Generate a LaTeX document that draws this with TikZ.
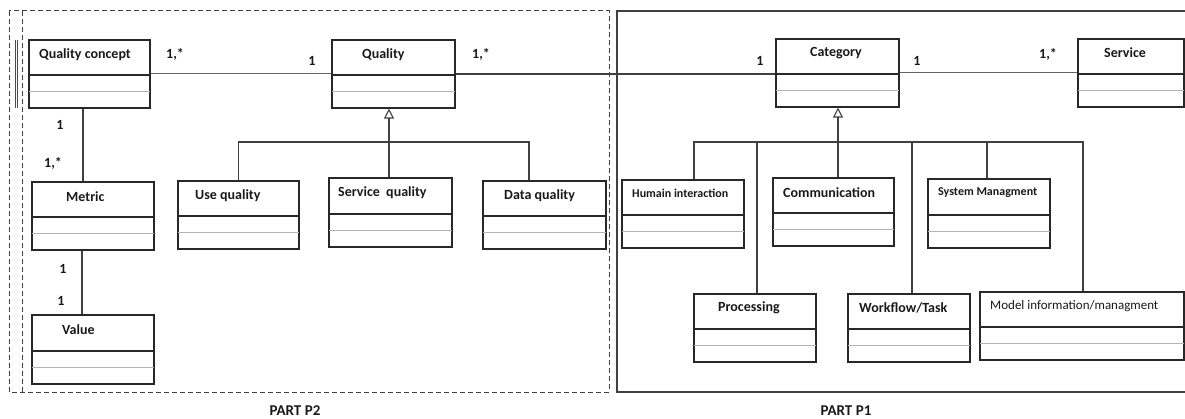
\documentclass[tikz,border=0pt]{standalone}
\usepackage{fontspec}
\setmainfont{Carlito}
\usetikzlibrary{arrows.meta}
\definecolor{boxline}{HTML}{282828}
\definecolor{thinline}{HTML}{B4B4B4}
\definecolor{assocline}{HTML}{666666}
\newcommand{\umlclass}[6]{%
  \node[cls, minimum width={#4-#2}, minimum height={#5-#3}] (#1) at ({(#2+#4)/2},{(#3+#5)/2}) {};
  \draw[boxline, line width=1.1pt] (#2,#6) -- (#4,#6);
  \draw[thinline, line width=1.1pt] (#2,{(#6+#5)/2}) -- (#4,{(#6+#5)/2});
}
\begin{document}
\begin{tikzpicture}[x=1pt, y=-1pt,
    cls/.style={draw=boxline, line width=1.1pt, rectangle, inner sep=0},
    clsname/.style={anchor=west, inner sep=0, font=\fontsize{14}{16}\selectfont\bfseries, text=black!90},
    smallname/.style={anchor=west, inner sep=0, font=\fontsize{12}{14}\selectfont\bfseries, text=black!90},
    mult/.style={inner sep=0, font=\fontsize{14}{16}\selectfont\bfseries, text=black!90},
    assoc/.style={assocline, line width=1pt},
    genline/.style={black!75, line width=1.1pt},
    genarrow/.style={genline, -{Triangle[open, length=10pt, width=10pt]}},
    part/.style={dash pattern=on 5pt off 3pt, black!75, line width=1pt}]
    \useasboundingbox (0,0) rectangle (1185,419);
    \draw[part] (9,11) rectangle (609,392);
    \draw[part] (22,11) -- (22,392);
    \draw[black!70, line width=0.9pt] (15,40) -- (15,108) (17.5,40) -- (17.5,108);
    \draw[black!75, line width=1.1pt] (1185,11) -- (617,11) -- (617,392) -- (1185,392);
    \umlclass{qc}{29}{40}{150}{108}{75}
    \umlclass{ql}{332}{40}{455}{108}{75}
    \umlclass{cat}{776}{39}{899}{107}{74}
    \umlclass{srv}{1078}{39}{1184}{107}{74}
    \umlclass{met}{32}{182}{154}{250}{217}
    \umlclass{val}{32}{315}{154}{384}{351}
    \umlclass{useq}{178}{181}{299}{249}{216}
    \umlclass{srvq}{329}{178}{452}{247}{214}
    \umlclass{dataq}{483}{181}{606}{249}{216}
    \umlclass{hum}{622}{180}{744}{248}{215}
    \umlclass{comm}{773}{178}{894}{246}{213}
    \umlclass{sys}{928}{179}{1050}{248}{215}
    \umlclass{proc}{694}{294}{816}{362}{329}
    \umlclass{wf}{848}{294}{970}{362}{329}
    \umlclass{model}{980}{292}{1184}{360}{327}
    \node[clsname] (qc-t) at (39,55) {Quality concept};
    \node[clsname] (ql-t) at (362,55) {Quality};
    \node[clsname] (cat-t) at (810,53) {Category};
    \node[clsname] (srv-t) at (1104,53) {Service};
    \node[clsname] (met-t) at (66,197) {Metric};
    \node[clsname] (val-t) at (62,330) {Value};
    \node[clsname] (useq-t) at (195,196) {Use quality};
    \node[clsname] (srvq-t) at (338,193) {Service\ \ quality};
    \node[clsname] (dataq-t) at (504,196) {Data quality};
    \node[smallname] (hum-t) at (632,193) {Humain interaction};
    \node[clsname] (comm-t) at (783,193) {Communication};
    \node[smallname] (sys-t) at (938,193) {System Managment};
    \node[clsname] (proc-t) at (718,308) {Processing};
    \node[clsname] (wf-t) at (859,308) {Workflow/Task};
    \node[smallname, font=\fontsize{13}{15}\selectfont] (model-t) at (990,306) {Model information/managment};
    \draw[assoc] (qc.east) -- (ql.west);
    \draw[genline] (ql.east) -- (ql.east -| cat.west);
    \draw[assoc] (cat.east) -- (srv.west);
    \draw[genline] ([xshift=-6.5pt]qc.south) -- ([xshift=-6.5pt]qc.south |- met.north);
    \draw[genline] ([xshift=-11pt]met.south) -- ([xshift=-11pt]met.south |- val.north);
    \node[mult] (m1) at (175,54) {1,*};
    \node[mult] (m2) at (312,61) {1};
    \node[mult] (m3) at (481,54) {1,*};
    \node[mult] (m4) at (760,61) {1};
    \node[mult] (m5) at (917,61) {1};
    \node[mult] (m6) at (1048,54) {1,*};
    \node[mult] (m7) at (60,125) {1};
    \node[mult] (m8) at (53,163) {1,*};
    \node[mult] (m9) at (63,269) {1};
    \node[mult] (m10) at (61,301) {1};
    \coordinate (qbus) at (389,142);
    \coordinate (cbus) at (838,142);
    \draw[genline] (useq.north) -- (useq.north |- qbus) -- ([xshift=-15.5pt]dataq.north |- qbus) -- ([xshift=-15.5pt]dataq.north);
    \draw[genarrow] (srvq.north -| qbus) -- (ql.south -| qbus);
    \draw[genline] ([xshift=11pt]hum.north) -- ([xshift=11pt]hum.north |- cbus) -- ([xshift=1pt]model.north |- cbus) -- ([xshift=1pt]model.north);
    \foreach \n/\dx in {proc/2, wf/3, sys/-2}
        \draw[genline] ([xshift=\dx pt]\n.north) -- ([xshift=\dx pt]\n.north |- cbus);
    \draw[genarrow] (comm.north -| cbus) -- (cat.south -| cbus);
    \node[mult, font=\fontsize{15}{17}\selectfont\bfseries] (p2) at (295,411) {PART P2};
    \node[mult, font=\fontsize{15}{17}\selectfont\bfseries] (p1) at (846,411) {PART P1};
\end{tikzpicture}
\end{document}
